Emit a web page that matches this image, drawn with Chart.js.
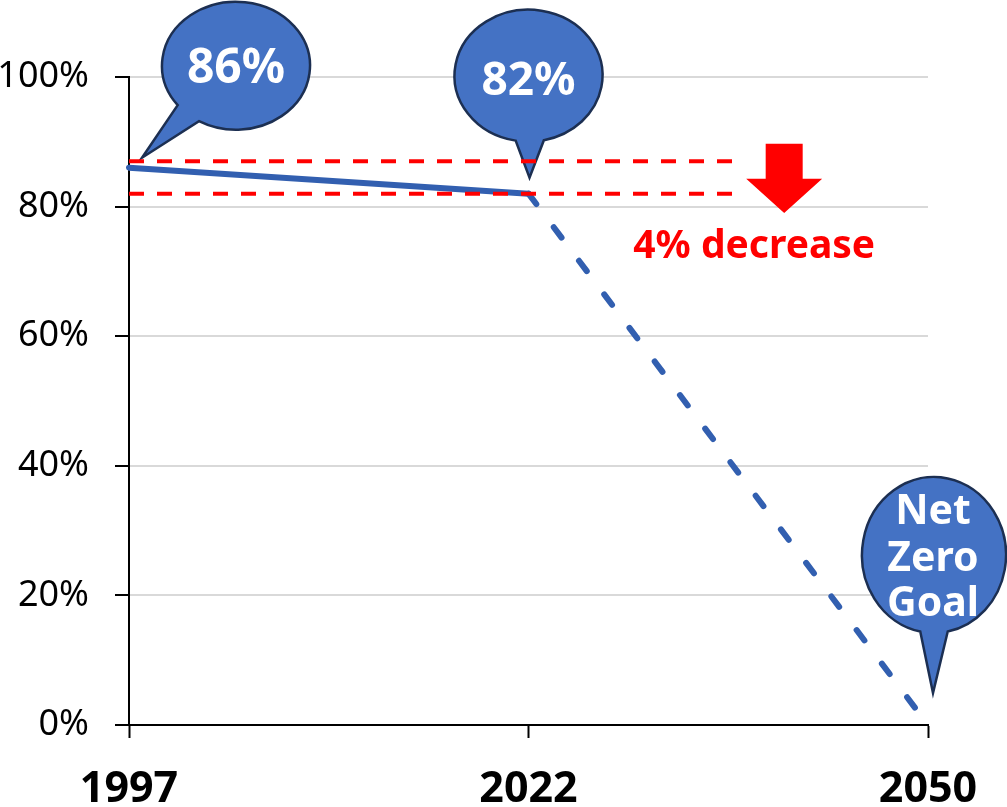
<!DOCTYPE html>
<html>
<head>
<meta charset="utf-8">
<script src="https://cdn.jsdelivr.net/npm/chart.js@4/dist/chart.umd.min.js"></script>
<style>
  html, body { margin: 0; padding: 0; background: #ffffff; }
  canvas { display: block; }
</style>
</head>
<body>
<canvas id="chart" width="1007" height="807"></canvas>
<script>
// Emission share path: 1997 baseline, 2022 today, 2050 net-zero target
const categories = ['1997', '2022', '2050'];
const emissionShare = [86, 82, 0];
const yTickValues = [0, 20, 40, 60, 80, 100];
const guideLevels = [87, 82];
const goalLabel = ['Net', 'Zero', 'Goal'];
const decreaseText = '4% decrease';

const FONT = '"Noto Sans", "Liberation Sans", sans-serif';
const BUBBLE_FILL = '#4472C4';
const BUBBLE_EDGE = '#1C2F52';
const LINE_BLUE = '#325FB0';
const RED = '#FF0000';
const deg = d => d * Math.PI / 180;

// Speech bubble: ellipse body plus a pointed tail, one outline
function drawBubble(ctx, b) {
  ctx.save();
  ctx.beginPath();
  ctx.moveTo(b.tipX, b.tipY);
  ctx.ellipse(b.cx, b.cy, b.rx, b.ry, 0, deg(b.start), deg(b.end), false);
  ctx.closePath();
  ctx.fillStyle = BUBBLE_FILL;
  ctx.fill();
  ctx.lineWidth = 2.5;
  ctx.strokeStyle = BUBBLE_EDGE;
  ctx.lineJoin = 'miter';
  ctx.stroke();
  ctx.restore();
}

// Writes lines of text so their cap height is centred on (x, capCenters[i])
function drawCentredLines(ctx, lines, x, capCenters, size, color) {
  ctx.save();
  ctx.font = `bold ${size}px ${FONT}`;
  ctx.fillStyle = color;
  ctx.textAlign = 'center';
  ctx.textBaseline = 'alphabetic';
  lines.forEach((t, i) => ctx.fillText(t, x, capCenters[i] + size * 0.357));
  ctx.restore();
}

const annotations = {
  id: 'annotations',
  afterDatasetsDraw(chart) {
    const { ctx, chartArea } = chart;
    const xs = chart.scales.x, ys = chart.scales.y;
    const px = i => xs.getPixelForValue(i);
    const py = v => ys.getPixelForValue(v);

    // Callout at 1997
    const p0x = px(0), p0y = py(emissionShare[0]);
    drawBubble(ctx, { cx: p0x + 107, cy: p0y - 102, rx: 74, ry: 64, start: 142, end: 480,
                      tipX: p0x + 13, tipY: p0y - 10 });
    drawCentredLines(ctx, [`${emissionShare[0]}%`], p0x + 107, [p0y - 102], 48, '#ffffff');

    // Callout at 2022
    const p1x = px(1), p1y = py(emissionShare[1]);
    drawBubble(ctx, { cx: p1x, cy: p1y - 118, rx: 74, ry: 66, start: 100, end: 438,
                      tipX: p1x + 1, tipY: p1y - 16 });
    drawCentredLines(ctx, [`${emissionShare[1]}%`], p1x, [p1y - 115], 46, '#ffffff');

    // Callout at 2050
    const p2x = px(2), p2y = py(emissionShare[2]);
    drawBubble(ctx, { cx: p2x + 6, cy: p2y - 170, rx: 72, ry: 78, start: 101, end: 439,
                      tipX: p2x + 5, tipY: p2y - 32 });
    drawCentredLines(ctx, goalLabel, p2x + 5, [p2y - 216, p2y - 169, p2y - 124], 41, '#ffffff');

    // Red dashed guide lines bracketing the drop
    ctx.save();
    ctx.strokeStyle = RED;
    ctx.lineWidth = 4;
    ctx.setLineDash([15, 13]);
    const guideEnd = px(1.517);
    guideLevels.forEach(v => {
      ctx.beginPath();
      ctx.moveTo(chartArea.left, py(v));
      ctx.lineTo(guideEnd, py(v));
      ctx.stroke();
    });
    ctx.restore();

    // Down arrow
    const ax = px(1.64);
    const aTop = py(89.7), aNeck = py(84.3), aTip = py(79);
    ctx.save();
    ctx.fillStyle = RED;
    ctx.beginPath();
    ctx.moveTo(ax - 18.5, aTop);
    ctx.lineTo(ax + 18.5, aTop);
    ctx.lineTo(ax + 18.5, aNeck);
    ctx.lineTo(ax + 38, aNeck);
    ctx.lineTo(ax, aTip);
    ctx.lineTo(ax - 38, aNeck);
    ctx.lineTo(ax - 18.5, aNeck);
    ctx.closePath();
    ctx.fill();
    ctx.restore();

    // Decrease label
    ctx.save();
    ctx.font = `bold 39px ${FONT}`;
    ctx.fillStyle = RED;
    ctx.textAlign = 'center';
    ctx.textBaseline = 'alphabetic';
    ctx.fillText(decreaseText, px(1.565), py(72.1));
    ctx.restore();
  }
};

new Chart(document.getElementById('chart'), {
  type: 'line',
  data: {
    labels: categories,
    datasets: [{
      data: emissionShare,
      borderColor: LINE_BLUE,
      borderWidth: 6,
      borderCapStyle: 'round',
      pointRadius: 0,
      pointHoverRadius: 0,
      tension: 0,
      fill: false,
      segment: {
        borderDash: c => c.p0DataIndex >= 1 ? [13, 29] : undefined
      }
    }]
  },
  options: {
    responsive: false,
    devicePixelRatio: 1,
    animation: false,
    events: [],
    layout: { padding: { top: 77, right: 79, left: 0, bottom: 0 } },
    plugins: { legend: { display: false }, tooltip: { enabled: false } },
    scales: {
      x: {
        type: 'category',
        offset: false,
        ticks: {
          color: '#000000',
          font: { family: FONT, size: 43, weight: 'bold' },
          padding: 26,
          maxRotation: 0,
          autoSkip: false
        },
        grid: { drawOnChartArea: false, offset: false, tickLength: 13, tickColor: '#000000', tickWidth: 2 },
        border: { color: '#000000', width: 2 },
        afterFit: s => { s.height = 82; }
      },
      y: {
        min: 0,
        max: 100,
        afterBuildTicks: s => { s.ticks = yTickValues.map(v => ({ value: v })); },
        ticks: {
          color: '#000000',
          font: { family: FONT, size: 36 },
          padding: 26,
          callback: v => v + '%'
        },
        grid: { color: '#D9D9D9', lineWidth: 2, tickColor: '#000000', tickLength: 14, tickWidth: 2 },
        border: { color: '#000000', width: 2 },
        afterFit: s => { s.width = 129; }
      }
    }
  },
  plugins: [annotations]
});
</script>
</body>
</html>
